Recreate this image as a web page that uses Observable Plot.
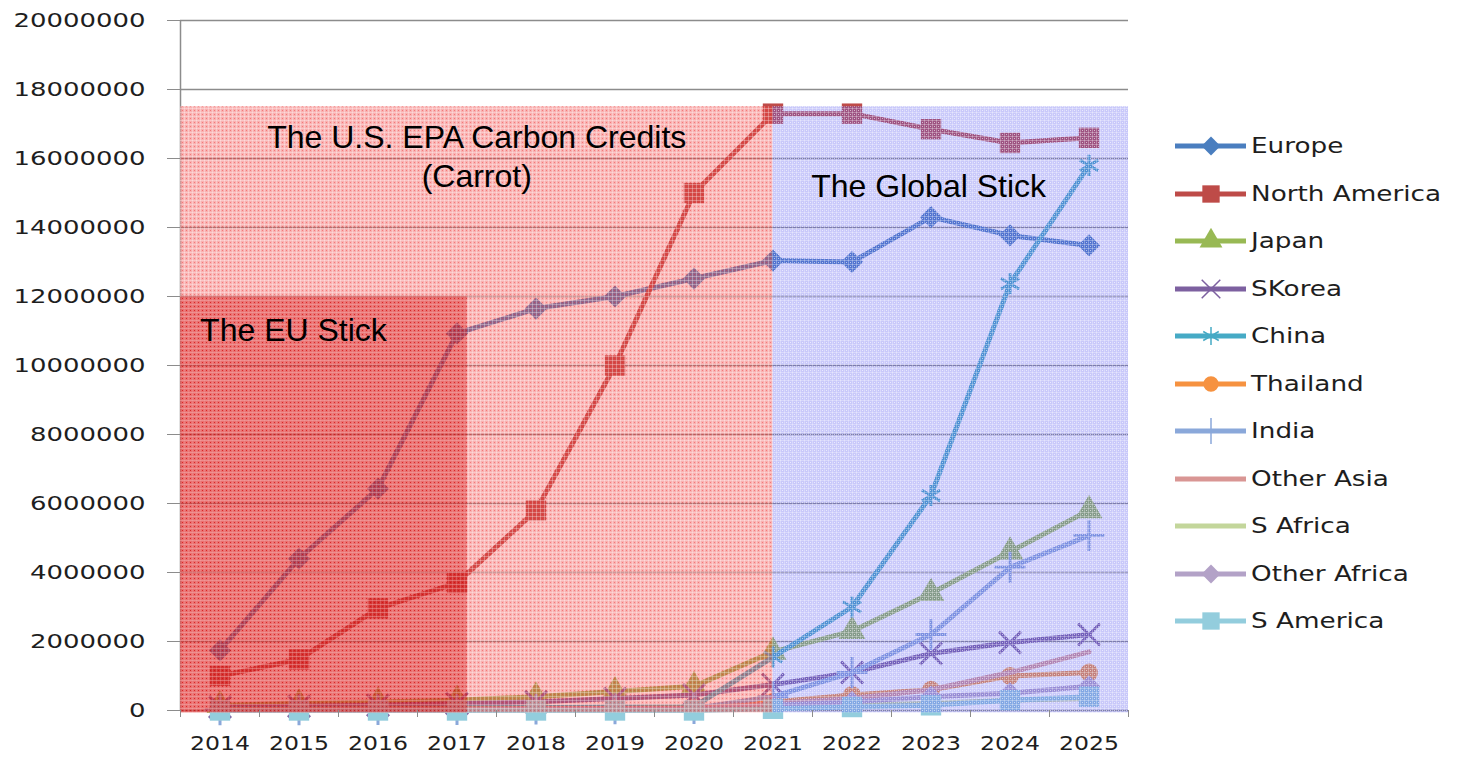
<!DOCTYPE html>
<html>
<head>
<meta charset="utf-8">
<script src="https://cdn.jsdelivr.net/npm/d3@7"></script>
<script src="https://cdn.jsdelivr.net/npm/@observablehq/plot@0.6"></script>
<style>
  body { margin: 0; background: #fff; }
  #wrap { position: relative; width: 1467px; height: 757px; overflow: hidden; }
  #legend { position: absolute; left: 0; top: 0; font-family: "DejaVu Sans", sans-serif; font-size: 21px; color: #1e1e1e; }
  .item { position: absolute; left: 1172px; display: flex; align-items: center; height: 26px; white-space: nowrap; }
  .item svg { display: block; }
  .item span { display: inline-block; transform: scaleX(1.25); transform-origin: left center; margin-left: 3px; }
</style>
</head>
<body>
<div id="wrap">
  <div id="chart"></div>
  <div id="legend"></div>
</div>
<script>
// Years on the horizontal axis
const years = [2014, 2015, 2016, 2017, 2018, 2019, 2020, 2021, 2022, 2023, 2024, 2025];

// Series values, one per year
const europe       = [1740000, 4400000, 6430000, 10930000, 11650000, 12000000, 12520000, 13040000, 13000000, 14300000, 13770000, 13480000];
const northAmerica = [1000000, 1480000, 2960000, 3700000, 5800000, 10000000, 15000000, 17300000, 17300000, 16850000, 16450000, 16600000];
const japan        = [150000, 200000, 250000, 300000, 400000, 550000, 700000, 1700000, 2300000, 3400000, 4600000, 5800000];
const sKorea       = [100000, 120000, 150000, 200000, 250000, 350000, 450000, 750000, 1100000, 1650000, 1970000, 2200000];
const china        = [50000, 60000, 70000, 80000, 90000, 100000, 110000, 1550000, 3000000, 6230000, 12370000, 15800000];
const thailand     = [30000, 30000, 40000, 40000, 50000, 60000, 70000, 250000, 450000, 600000, 1000000, 1100000];
const india        = [20000, 20000, 30000, 30000, 40000, 50000, 60000, 400000, 1100000, 2200000, 4150000, 5070000];
const otherAsia    = [20000, 20000, 30000, 30000, 40000, 50000, 60000, 200000, 350000, 600000, 1100000, 1700000];
const sAfrica      = [10000, 10000, 10000, 20000, 20000, 30000, 30000, 100000, 150000, 200000, 300000, 350000];
const otherAfrica  = [10000, 10000, 20000, 20000, 30000, 30000, 40000, 150000, 250000, 400000, 500000, 700000];
const sAmerica     = [0, 0, 0, 0, 0, 0, 0, 50000, 100000, 150000, 300000, 400000];

const seriesNames  = ["Europe", "North America", "Japan", "SKorea", "China", "Thailand", "India", "Other Asia", "S Africa", "Other Africa", "S America"];
const seriesValues = [europe, northAmerica, japan, sKorea, china, thailand, india, otherAsia, sAfrica, otherAfrica, sAmerica];

// Value axis ticks
const yTicks = [0, 2000000, 4000000, 6000000, 8000000, 10000000, 12000000, 14000000, 16000000, 18000000, 20000000];

// Shaded policy periods (years / values) and their captions
const periods = [
  {name: "carrot", x1: 2013.5, x2: 2021, y1: -70000, y2: 17500000},
  {name: "global", x1: 2021, x2: 2025.5, y1: -70000, y2: 17500000},
  {name: "eu", x1: 2013.5, x2: 2017.13, y1: -70000, y2: 12000000}
];
const captions = [
  {text: "The U.S. EPA Carbon Credits\n(Carrot)", year: 2017.25, value: 16100000},
  {text: "The Global Stick", year: 2022.97, value: 15250000},
  {text: "The EU Stick", year: 2014.93, value: 11070000}
];

// Styling per series
const seriesColors  = ["#4a7ebf", "#be4b48", "#98b954", "#7d60a0", "#46aac5", "#f69240", "#8aa8da", "#d99694", "#c3d69b", "#b3a2c7", "#93cddd"];
const seriesSymbols = ["diamond2", "square", "triangle", "times", "asterisk", "circle", "plus", null, null, "diamond2", "square"];
const strokeSymbols = new Set(["times", "asterisk", "plus"]);
const symbolR = {diamond2: 10, square: 11.5, triangle: 10, times: 10, asterisk: 10, plus: 10, circle: 9};

const rows = seriesNames.flatMap((series, i) => years.map((year, j) => ({series, year, value: seriesValues[i][j]})));
const boundaries = d3.range(years.length + 1).map(k => years[0] - 0.5 + k);

const marks = [
  Plot.gridY({ticks: yTicks.slice(1), stroke: "#8c8c8c", strokeOpacity: 1, strokeWidth: 1.3}),
  Plot.ruleY([0], {stroke: "#8c8c8c", strokeWidth: 1.5}),
  Plot.ruleX([boundaries[0]], {y1: 0, y2: 20000000, stroke: "#8c8c8c", strokeWidth: 1.5})
];

seriesNames.forEach((name, i) => {
  const data = rows.filter(d => d.series === name);
  const color = seriesColors[i];
  marks.push(Plot.line(data, {x: "year", y: "value", stroke: color, strokeWidth: 5, strokeLinejoin: "round"}));
  const sym = seriesSymbols[i];
  if (sym) {
    if (strokeSymbols.has(sym)) {
      marks.push(Plot.dot(data, {x: "year", y: "value", symbol: sym, r: symbolR[sym], stroke: color, strokeWidth: 3, fill: "none"}));
    } else {
      marks.push(Plot.dot(data, {x: "year", y: "value", symbol: sym, r: symbolR[sym], fill: color, stroke: "none"}));
    }
  }
});

// Shaded periods sit on top of the lines, as translucent textured panels
marks.push(Plot.rect(periods.filter(d => d.name === "carrot"), {x1: "x1", x2: "x2", y1: "y1", y2: "y2", fill: "url(#patRed)"}));
marks.push(Plot.rect(periods.filter(d => d.name === "global"), {x1: "x1", x2: "x2", y1: "y1", y2: "y2", fill: "url(#patBlue)"}));
marks.push(Plot.rect(periods.filter(d => d.name === "eu"), {x1: "x1", x2: "x2", y1: "y1", y2: "y2", fill: "url(#patDark)"}));

marks.push(Plot.text(captions, {x: "year", y: "value", text: "text", fontSize: 32, fontFamily: "'Liberation Sans', Arial, sans-serif", fill: "#000", lineHeight: 1.2, textAnchor: "middle"}));

marks.push(Plot.axisY({ticks: yTicks, tickFormat: d3.format("d"), tickSize: 13, tickPadding: 22, stroke: "#8c8c8c", fill: "#1e1e1e", label: null}));
marks.push(Plot.axisX({ticks: years, tickSize: 0, tickPadding: 25, tickFormat: d => String(d), fill: "#1e1e1e", label: null}));
marks.push(Plot.axisX({ticks: boundaries, tickSize: 7, tickFormat: () => null, stroke: "#8c8c8c", label: null}));

const chart = Plot.plot({
  width: 1160,
  height: 757,
  marginLeft: 180,
  marginRight: 32,
  marginTop: 20,
  marginBottom: 47,
  style: {fontFamily: "'DejaVu Sans', sans-serif", fontSize: "20px", background: "transparent", overflow: "visible"},
  x: {type: "linear", domain: [boundaries[0], boundaries[boundaries.length - 1]]},
  y: {domain: [0, 20000000]},
  marks
});
document.getElementById("chart").appendChild(chart);

// Textured fills for the shaded periods
const svg = d3.select(chart);
svg.insert("defs", ":first-child").html(`
  <pattern id="patRed" patternUnits="userSpaceOnUse" width="4" height="4">
    <rect width="4" height="4" fill="rgb(240,70,70)" fill-opacity="0.42"/>
    <rect width="4" height="1" fill="#fff" fill-opacity="0.3"/>
    <rect width="1" height="4" fill="#fff" fill-opacity="0.3"/>
    <rect x="2" y="2" width="1" height="1" fill="rgb(230,40,40)" fill-opacity="0.4"/>
  </pattern>
  <pattern id="patDark" patternUnits="userSpaceOnUse" width="4" height="4">
    <rect width="4" height="4" fill="rgb(215,25,25)" fill-opacity="0.42"/>
    <rect width="4" height="1" fill="#fff" fill-opacity="0.12"/>
    <rect x="2" y="2" width="1" height="1" fill="rgb(200,0,0)" fill-opacity="0.5"/>
  </pattern>
  <pattern id="patBlue" patternUnits="userSpaceOnUse" width="4" height="4">
    <rect width="4" height="4" fill="rgb(95,95,240)" fill-opacity="0.34"/>
    <rect width="4" height="1" fill="#fff" fill-opacity="0.3"/>
    <rect width="1" height="4" fill="#fff" fill-opacity="0.3"/>
    <rect x="2" y="2" width="1" height="1" fill="#fff" fill-opacity="0.6"/>
  </pattern>`);

// Wide tick lettering: each digit stretched to the same width
function widen(selector, perChar) {
  svg.selectAll(selector).each(function() {
    const t = this.textContent;
    if (t) d3.select(this).attr("textLength", t.length * perChar).attr("lengthAdjust", "spacingAndGlyphs");
  });
}
widen('g[aria-label="y-axis tick label"] text', 16.5);
widen('g[aria-label="x-axis tick label"] text', 15);

// Legend
const legend = d3.select("#legend");
const d3Symbols = {diamond2: d3.symbolDiamond2, square: d3.symbolSquare, triangle: d3.symbolTriangle, times: d3.symbolTimes, asterisk: d3.symbolAsterisk, plus: d3.symbolPlus, circle: d3.symbolCircle};
seriesNames.forEach((name, i) => {
  const item = legend.append("div").attr("class", "item").style("top", (133 + i * 47.5) + "px");
  const s = item.append("svg").attr("width", 76).attr("height", 26);
  s.append("line").attr("x1", 3).attr("x2", 74).attr("y1", 13).attr("y2", 13)
    .attr("stroke", seriesColors[i]).attr("stroke-width", 5);
  const sym = seriesSymbols[i];
  if (sym) {
    const size = Math.PI * Math.pow(symbolR[sym] * 0.85, 2);
    const p = s.append("path").attr("transform", "translate(39,13)").attr("d", d3.symbol(d3Symbols[sym], size)());
    if (strokeSymbols.has(sym)) p.attr("fill", "none").attr("stroke", seriesColors[i]).attr("stroke-width", 1.5);
    else p.attr("fill", seriesColors[i]);
  }
  item.append("span").text(name);
});
</script>
</body>
</html>
